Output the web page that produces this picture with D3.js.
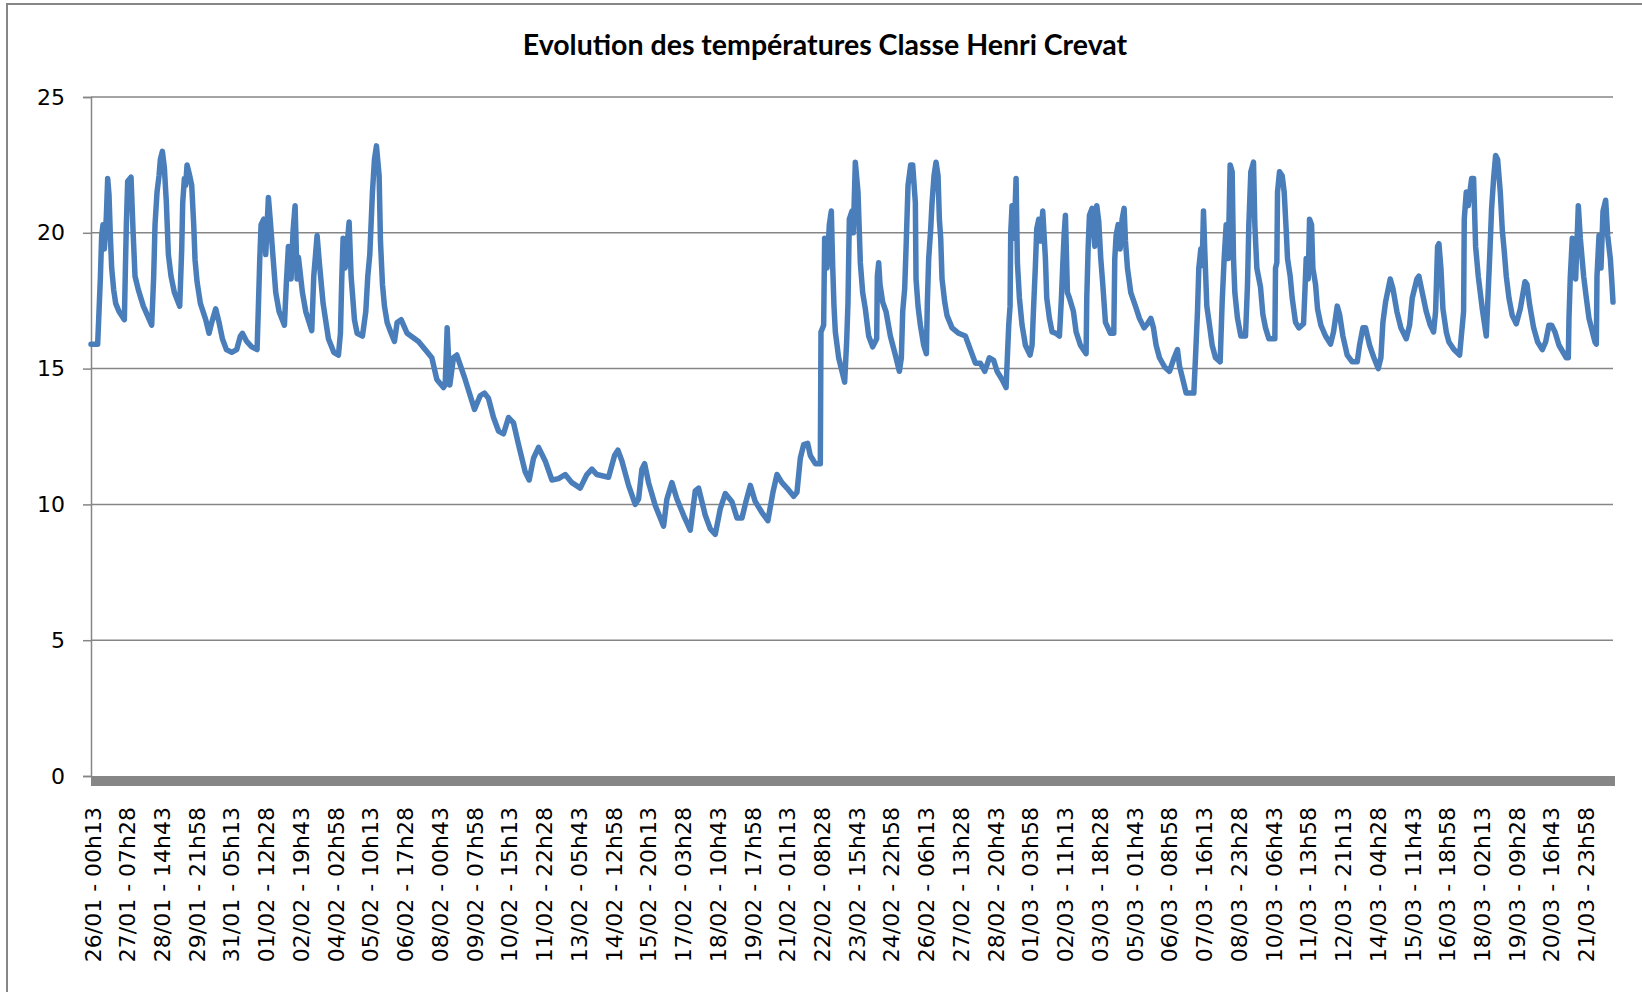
<!DOCTYPE html>
<html>
<head>
<meta charset="utf-8">
<script src="https://cdn.jsdelivr.net/npm/d3@7"></script>
<style>
  body { margin: 0; background: #fff; }
  svg { display: block; }
</style>
</head>
<body>
<svg id="chart"></svg>
<script>
const chartTitle = "Evolution des températures Classe Henri Crevat";

// libellés de l'axe des catégories (un tous les 125 relevés)
const tickLabels = [
  "26/01 - 00h13", "27/01 - 07h28", "28/01 - 14h43", "29/01 - 21h58", "31/01 - 05h13",
  "01/02 - 12h28", "02/02 - 19h43", "04/02 - 02h58", "05/02 - 10h13", "06/02 - 17h28",
  "08/02 - 00h43", "09/02 - 07h58", "10/02 - 15h13", "11/02 - 22h28", "13/02 - 05h43",
  "14/02 - 12h58", "15/02 - 20h13", "17/02 - 03h28", "18/02 - 10h43", "19/02 - 17h58",
  "21/02 - 01h13", "22/02 - 08h28", "23/02 - 15h43", "24/02 - 22h58", "26/02 - 06h13",
  "27/02 - 13h28", "28/02 - 20h43", "01/03 - 03h58", "02/03 - 11h13", "03/03 - 18h28",
  "05/03 - 01h43", "06/03 - 08h58", "07/03 - 16h13", "08/03 - 23h28", "10/03 - 06h43",
  "11/03 - 13h58", "12/03 - 21h13", "14/03 - 04h28", "15/03 - 11h43", "16/03 - 18h58",
  "18/03 - 02h13", "19/03 - 09h28", "20/03 - 16h43", "21/03 - 23h58"
];
const yTicks = [0, 5, 10, 15, 20, 25];

// relevés : [heures depuis le 26/01 00h13, température °C]
const periodJanFeb = [
  [0,15.9],[6,15.9],[7.2,17.1],[8.4,18.3],[9.6,19.9],[10.8,20.3],[12,19.4],[13.8,20.6],[15,22.0],
  [16.2,21.4],[17.4,19.9],[18.6,18.7],[20.4,17.9],[22.2,17.4],[25.2,17.1],[30,16.8],[30.9,18.6],
  [31.8,20.3],[33,21.9],[36,22.05],[37.8,20.1],[39.6,18.4],[42.6,17.9],[47.1,17.3],[54.6,16.6],
  [56.4,18.4],[57.6,20.3],[59.4,21.5],[61.2,22.1],[62.4,22.7],[64.2,23.0],[66,22.4],[67.8,21.1],
  [69.6,19.2],[72,18.4],[75,17.8],[79.8,17.3],[81.6,19.4],[82.5,21.1],[84,22.0],[85.2,21.75],
  [86.4,22.5],[88.8,22.1],[90.6,21.75],[92.4,20.3],[93.6,19.0],[95.4,18.2],[98.4,17.4],[103.2,16.8],
  [106.2,16.3],[108.6,16.7],[112.2,17.2],[115.2,16.7],[118.2,16.1],[121.8,15.7],[126.6,15.6],
  [131.1,15.7],[134.4,16.2],[136.2,16.3],[140.1,16.0],[144.6,15.8],[149.4,15.7],[150.6,17.3],
  [151.8,19.0],[153,20.3],[155.4,20.5],[157.2,19.2],[159.6,21.3],[161.4,20.4],[163.2,19.4],
  [166.2,17.8],[169.2,17.1],[174,16.6],[175.8,18.2],[177.6,19.5],[180,18.3],[181.8,20.1],
  [183.6,21.0],[185.4,18.3],[186.6,19.1],[190.2,17.8],[193.2,17.1],[198.6,16.4],[200.4,18.4],
  [203.4,19.9],[205.2,19.0],[208.8,17.4],[213.6,16.1],[218.4,15.6],[222.6,15.5],[224.4,16.3],
  [225.6,18.3],[226.8,19.8],[228.6,18.7],[232.2,20.4],[234,18.4],[237,16.8],[239.4,16.3],
  [244.2,16.2],[247.2,17.1],[249,18.4],[250.8,19.2],[253.2,21.5],[255,22.7],[256.8,23.2],
  [259.2,22.1],[260.4,19.7],[262.2,18.1],[264,17.3],[266.4,16.7],[270,16.3],[273,16.0],
  [275.4,16.7],[279,16.8],[284.4,16.3],[294.6,16.0],[300.6,15.7],[306.6,15.4],[311.1,14.6],
  [317.1,14.3],[318.6,14.4],[320.4,16.5],[322.8,14.4],[326.1,15.4],[329.1,15.5],[336.6,14.6],
  [345,13.5],[350.1,14.0],[354,14.1]
];
const periodColdSpell = [
  [357.6,13.9],[362.1,13.2],[366.6,12.7],[371.1,12.6],[375.6,13.2],[380.1,13.0],[384.6,12.2],
  [390.6,11.2],[394.2,10.9],[398.1,11.7],[402.6,12.1],[408.6,11.6],[414.6,10.9],[420.6,10.95],
  [426.6,11.1],[432.6,10.8],[440.1,10.6],[446.1,11.1],[450.6,11.3],[455.1,11.1],[465.6,11.0],
  [471,11.8],[474,12.0],[477.6,11.6],[483.6,10.7],[489.6,10.0],[492.6,10.2],[495.6,11.3],
  [498,11.5],[501.6,10.8],[507.6,9.96],[515.1,9.2],[518.1,10.2],[522.6,10.8],[527.1,10.2],
  [533.1,9.6],[539.1,9.05],[543.6,10.5],[546.6,10.6],[552.6,9.6],[557.1,9.1],[561.6,8.9],
  [566.1,9.84],[570.6,10.4],[576.6,10.1],[581.1,9.5],[585.6,9.5],[589.2,10.1],[593.1,10.7],
  [597.6,10.1],[603.6,9.7],[608.9,9.4],[613.5,10.45],[617.1,11.1],[621.6,10.8],[626.1,10.6],
  [632.1,10.3],[635.1,10.45],[638.1,11.7],[641.1,12.2],[644.7,12.25],[647.1,11.8],[651.6,11.5],
  [656.1,11.5]
];
const periodLateFeb = [
  [656.7,16.35],[659.1,16.6],[660,19.8],[662.1,18.7],[664.2,20.3],[666,20.8],[667.2,18.8],
  [668.4,17.3],[669.6,16.35],[672.6,15.4],[675.6,14.9],[678,14.5],[679.8,16.0],[681,17.45],
  [682.2,20.5],[684.6,20.8],[685.8,20.0],[687.6,22.6],[690,21.5],[692.1,18.9],[694.2,17.8],
  [696.6,17.2],[699.6,16.2],[703.2,15.8],[706.8,16.1],[707.4,18.4],[708.6,18.9],[709.8,18.1],
  [712.2,17.45],[715.2,17.1],[719.1,16.2],[723.6,15.5],[727.2,14.9],[729,15.4],[730.2,17.1],
  [732,17.95],[733.2,19.4],[735,21.75],[737.4,22.5],[739.2,22.5],[741.6,21.1],[742.2,18.3],
  [744,17.3],[746.1,16.6],[749.1,15.86],[751.5,15.55],[752.4,17.45],[753.6,19.05],[755.4,20.15],
  [756.6,21.1],[758.4,22.1],[760.2,22.6],[762,22.1],[763.2,20.5],[764.4,19.8],[765.6,18.3],
  [768,17.45],[770.1,16.95],[774.6,16.5],[780.6,16.3],[786.6,16.2],[791.1,15.7],[795.6,15.2],
  [800.1,15.2],[804,14.9],[808.2,15.4],[812.1,15.3],[815.1,14.9],[819.6,14.6],[823.2,14.3],
  [825.6,16.6],[826.8,17.3],[827.4,20.0],[828.6,21.0],[830.4,19.8],[832.2,22.0],[833.4,18.9],
  [835.2,17.6],[837.6,16.6],[840.6,15.86],[844.8,15.5],[846.6,15.86],[847.8,17.1],[849.6,18.8],
  [850.8,20.15],[852.6,20.5],[854.4,19.7],[856.2,20.8],[858.6,19.05],[859.8,17.6],[862.2,16.85],
  [864.6,16.35],[868.2,16.3],[871.2,16.2],[873,17.6],[874.2,18.8],[875.4,19.9],[876.6,20.65],
  [878.4,17.8],[880.2,17.6],[883.8,17.1],[886.2,16.35],[890.1,15.86],[895.2,15.55],[895.8,17.6],
  [897,19.4],[898.2,20.65],[900.6,20.9],[903,19.5],[904.8,21.0],[906.6,20.4],[908.4,19.05],
  [910.2,18.1],[912.6,16.7],[917.1,16.3],[920.1,16.3],[921,19.05],[922.2,19.9],[924,20.3],
  [925.8,19.4],[927.6,20.5],[929.4,20.9],[930.6,19.7],[932.4,18.7],[935.4,17.8],[939.6,17.3],
  [943.2,16.85],[947.4,16.5],[950.4,16.65],[953.4,16.85],[955.8,16.5],[958.2,15.86],[961.2,15.4],
  [966,15.05],[970.2,14.9],[974.4,15.4],[977.4,15.7],[979.2,15.1],[982.2,14.6],[985.2,14.1],
  [992.1,14.1]
];
const periodMarch = [
  [993.6,15.4],[995.4,17.1],[996.6,18.7],[998.4,19.4],[999.6,18.8],[1000.8,20.8],[1002,19.3],
  [1003.8,17.3],[1006.2,16.6],[1008.6,15.86],[1011.6,15.4],[1015.8,15.25],[1017.6,17.45],
  [1019.4,19.05],[1021.2,20.3],[1023,19.05],[1024.8,22.5],[1026.6,22.25],[1027.8,19.05],
  [1029,17.8],[1031.4,16.85],[1034.4,16.2],[1038.6,16.2],[1040.4,18.1],[1041.6,20.3],
  [1043.4,22.25],[1045.8,22.6],[1047,20.3],[1048.8,18.7],[1052.1,18.0],[1054.2,17.0],
  [1056.6,16.5],[1059.6,16.1],[1065,16.1],[1065.6,18.7],[1066.8,18.9],[1067.4,21.5],
  [1069.2,22.25],[1071.6,22.1],[1073.4,21.5],[1075.2,20.1],[1076.4,19.05],[1078.8,18.4],
  [1080.6,17.6],[1083.6,16.7],[1086.6,16.5],[1090.8,16.65],[1092,17.8],[1093.2,19.05],
  [1095,18.3],[1096.2,20.5],[1098,20.3],[1099.2,18.7],[1101.6,18.1],[1103.4,17.2],[1106.4,16.6],
  [1110.6,16.2],[1115.1,15.9],[1117.8,16.35],[1121.1,17.3],[1123.2,17.0],[1126.2,16.2],
  [1130.1,15.5],[1134.6,15.25],[1139.1,15.25],[1141.2,15.86],[1144.2,16.5],[1146.6,16.5],
  [1150.2,15.86],[1154.1,15.4],[1158,15.0],[1160.4,15.4],[1162.2,16.7],[1164.6,17.45],
  [1168.8,18.3],[1171.2,17.95],[1174.8,17.1],[1178.4,16.5],[1183.2,16.1],[1186.2,16.6],
  [1188.6,17.6],[1192.8,18.3],[1194.6,18.4],[1197.6,17.8],[1201.2,17.1],[1204.8,16.6],
  [1207.8,16.35],[1209.6,17.1],[1211.4,19.5],[1212.6,19.6],[1214.4,18.7],[1216.2,17.2],
  [1219.2,16.35],[1221.6,15.98],[1226.1,15.7],[1231.2,15.5],[1234.8,17.1],[1235.4,20.5],
  [1237.2,21.5],[1239,21.0],[1242,22.0],[1243.8,22.0],[1245.6,19.5],[1248,18.4],[1251.6,17.2],
  [1255.2,16.2],[1258.2,19.05],[1260,20.9],[1261.8,22.0],[1263.6,22.85],[1265.4,22.7],
  [1267.8,21.5],[1269.6,20.1],[1271.4,19.3],[1273.2,18.4],[1275.6,17.6],[1278.6,16.95],
  [1282.2,16.65],[1285.8,17.2],[1290,18.2],[1291.8,18.1],[1294.2,17.35],[1297.8,16.5],
  [1301.4,15.98],[1305.6,15.7],[1308.6,15.98],[1311.6,16.6],[1314,16.6],[1317,16.35],
  [1320.6,15.86],[1327.2,15.4],[1329,15.4],[1329.6,16.85],[1330.8,18.4],[1332.6,19.8],
  [1335.6,18.3],[1338,21.0],[1339.8,19.8],[1342.8,18.4],[1345.2,17.6],[1347.6,16.85],
  [1353,15.98],[1354.2,15.9],[1354.8,18.4],[1356.6,19.9],[1358.4,18.7],[1360.2,20.8],
  [1362.6,21.2],[1364.4,19.9],[1366.8,19.05],[1368,18.3],[1369.2,17.45]
];

const readings = [].concat(periodJanFeb, periodColdSpell, periodLateFeb, periodMarch);

const W = 1642, H = 992;
const margin = { top: 97, right: 29, bottom: 216, left: 91 };
const gridColor = "#868686";
const lineColor = "#4a7ebb";

const svg = d3.select("#chart").attr("width", W).attr("height", H);

// cadre du graphique
svg.append("rect")
  .attr("x", 7).attr("y", 4)
  .attr("width", W).attr("height", H)
  .attr("fill", "none").attr("stroke", gridColor).attr("stroke-width", 2);

// position d'un libellé "jj/mm - hhHmm" en heures depuis le premier
const parseLabel = s => {
  const m = s.match(/(\d+)\/(\d+) - (\d+)h(\d+)/);
  return Date.UTC(2012, +m[2] - 1, +m[1], +m[3], +m[4]);
};
const t0 = parseLabel(tickLabels[0]);
const labelHour = s => (parseLabel(s) - t0) / 3600000;

const x = d3.scaleLinear()
  .domain([0, d3.max(readings, d => d[0])])
  .range([margin.left, W - margin.right]);
const y = d3.scaleLinear()
  .domain([0, 25])
  .range([H - margin.bottom, margin.top]);

// quadrillage horizontal + axe vertical
const yAxis = svg.append("g")
  .attr("transform", `translate(${margin.left},0)`)
  .call(d3.axisLeft(y).tickValues(yTicks).tickSize(8).tickPadding(18));
yAxis.select(".domain").attr("stroke", gridColor).attr("stroke-width", 1.5);
yAxis.selectAll(".tick line").attr("stroke", gridColor).attr("stroke-width", 1.5);
yAxis.selectAll(".tick text")
  .attr("font-family", "DejaVu Sans").attr("font-size", 22).attr("fill", "#000");

svg.append("g")
  .selectAll("line")
  .data(yTicks.filter(v => v > 0))
  .join("line")
  .attr("x1", margin.left).attr("x2", W - margin.right)
  .attr("y1", d => y(d)).attr("y2", d => y(d))
  .attr("stroke", gridColor).attr("stroke-width", 1.5);

// bande des graduations de l'axe des catégories
svg.append("rect")
  .attr("x", x(0)).attr("y", y(0))
  .attr("width", x.range()[1] - x(0) + 2).attr("height", 10)
  .attr("fill", gridColor);

// libellés verticaux
const xAxis = svg.append("g")
  .attr("transform", `translate(0,${y(0)})`)
  .call(d3.axisBottom(x)
    .tickValues(tickLabels.map(labelHour))
    .tickFormat((d, i) => tickLabels[i])
    .tickSize(0));
xAxis.select(".domain").remove();
xAxis.selectAll(".tick text")
  .attr("transform", "rotate(-90)")
  .attr("text-anchor", "end")
  .attr("x", -31).attr("y", 0).attr("dy", 9)
  .attr("font-family", "DejaVu Sans").attr("font-size", 22).attr("fill", "#000");

// courbe des températures
const line = d3.line().x(d => x(d[0])).y(d => y(d[1]));
svg.append("path")
  .datum(readings)
  .attr("d", line)
  .attr("fill", "none")
  .attr("stroke", lineColor)
  .attr("stroke-width", 5.5)
  .attr("stroke-linejoin", "round")
  .attr("stroke-linecap", "round");

// titre
svg.append("text")
  .attr("x", 825).attr("y", 55)
  .attr("text-anchor", "middle")
  .attr("font-family", "Lato")
  .attr("font-weight", "bold")
  .attr("font-size", 28.5)
  .text(chartTitle);
</script>
</body>
</html>
